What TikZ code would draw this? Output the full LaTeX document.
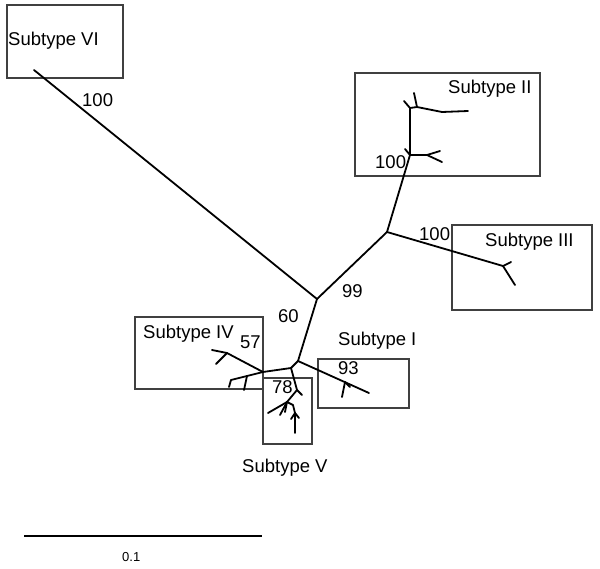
\documentclass[tikz,border=0pt]{standalone}
\usepackage{fontspec}
\setmainfont{Liberation Sans}
\usetikzlibrary{positioning}

\begin{document}
\begin{tikzpicture}[x=1pt,y=-1pt,
    branch/.style={line width=1.8pt,line cap=round,line join=round},
    clade/.style={draw=black!75,line width=1.1pt},
    lbl/.style={anchor=base west,inner sep=0pt,font=\fontsize{18.5}{22}\selectfont},
    small/.style={lbl,font=\fontsize{13}{15}\selectfont}]

                \useasboundingbox (0,0) rectangle (600,568);

                % clade boxes
                \draw[clade] (7,5) rectangle (123,78);

                \draw[clade] (355,73) rectangle (540,176);

                \draw[clade] (452,225) rectangle (592,310);

                \draw[clade] (135,317) rectangle (263,389);

                \draw[clade] (318,359) rectangle (409,408);

                \draw[clade] (263,378) rectangle (312,444);

                % tree nodes
                \coordinate (A) at (317,299);
                \coordinate (VI) at (34,70);
                \coordinate (B) at (387,232);
                \coordinate (C) at (410,155);
                \coordinate (c1) at (405,149);
                \coordinate (c2) at (427,155);
                \coordinate (c3) at (440,151);
                \coordinate (c4) at (442,162);
                \coordinate (D) at (410,108);
                \coordinate (d1) at (404,101);
                \coordinate (E) at (417,107);
                \coordinate (e1) at (414,93);
                \coordinate (F) at (442,112);
                \coordinate (f1) at (468,111);
                \coordinate (G) at (503,266);
                \coordinate (g1) at (511,262);
                \coordinate (g2) at (515,285);
                \coordinate (H) at (298,361);
                \coordinate (P) at (345,382);
                \coordinate (p1) at (342,397);
                \coordinate (p2) at (350,387);
                \coordinate (I) at (369,393);
                \coordinate (L) at (291,368);
                \coordinate (K) at (263,372);
                \coordinate (N) at (227,353);
                \coordinate (n1) at (212,350);
                \coordinate (n2) at (216,364);
                \coordinate (Q) at (247,376);
                \coordinate (q1) at (244,390);
                \coordinate (R) at (231,380);
                \coordinate (r1) at (229,387);
                \coordinate (V1) at (297,390);
                \coordinate (v1) at (302,395);
                \coordinate (V2) at (287,402);
                \coordinate (v2) at (268,413);
                \coordinate (v3) at (280,415);
                \coordinate (v4) at (285,412);
                \coordinate (V3) at (293,405);
                \coordinate (V4) at (295,413);
                \coordinate (v5) at (295,433);
                \coordinate (v6) at (291,419);
                \coordinate (v7) at (299,418);

                % branches
                \path[branch] (A) edge (VI) edge (B) edge (H);

                \path[branch] (B) edge (C) edge (G);

                \path[branch] (C) edge (c1) edge (c2) edge (D);

                \path[branch] (c2) edge (c3) edge (c4);

                \path[branch] (D) edge (d1) edge (E);

                \path[branch] (E) edge (e1) edge (F);

                \path[branch] (F) edge (f1);

                \path[branch] (G) edge (g1) edge (g2);

                \path[branch] (H) edge (I) edge (L);

                \path[branch] (P) edge (p1) edge (p2);

                \path[branch] (L) edge (K) edge (V1);

                \path[branch] (K) edge (N) edge (Q);

                \path[branch] (N) edge (n1) edge (n2);

                \path[branch] (Q) edge (q1) edge (R);

                \path[branch] (R) edge (r1);

                \path[branch] (V1) edge (v1) edge (V2);

                \path[branch] (V2) edge (v2) edge (v3) edge (v4) edge (V3);

                \path[branch] (V3) edge (V4);

                \path[branch] (V4) edge (v5) edge (v6) edge (v7);

                % labels
                \node[lbl] (tVI) at (8,45) {Subtype VI};

                \node[lbl] (bVI) at (82,106) {100};

                \node[lbl] (tII) at (448,93) {Subtype II};

                \node[lbl] (bII) at (375,168) {100};

                \node[lbl] (tIII) at (485,246) {Subtype III};

                \node[lbl] (bIII) at (419,240) {100};

                \node[lbl] (b99) at (342,297) {99};

                \node[lbl] (b60) at (278,322) {60};

                \node[lbl] (tIV) at (143,338) {Subtype IV};

                \node[lbl] (b57) at (240,348) {57};

                \node[lbl] (tI) at (338,345) {Subtype I};

                \node[lbl] (b93) at (338,374) {93};

                \node[lbl] (b78) at (272,393) {78};

                \node[lbl] (tV) at (242,472) {Subtype V};

                % scale bar
                \coordinate (s1) at (24,536);

                \coordinate (s2) at (262,536);

                \path[branch,line cap=butt] (s1) edge (s2);

                \node[small] (sbar) at (122,561) {0.1};

            \end{tikzpicture}
\end{document}
